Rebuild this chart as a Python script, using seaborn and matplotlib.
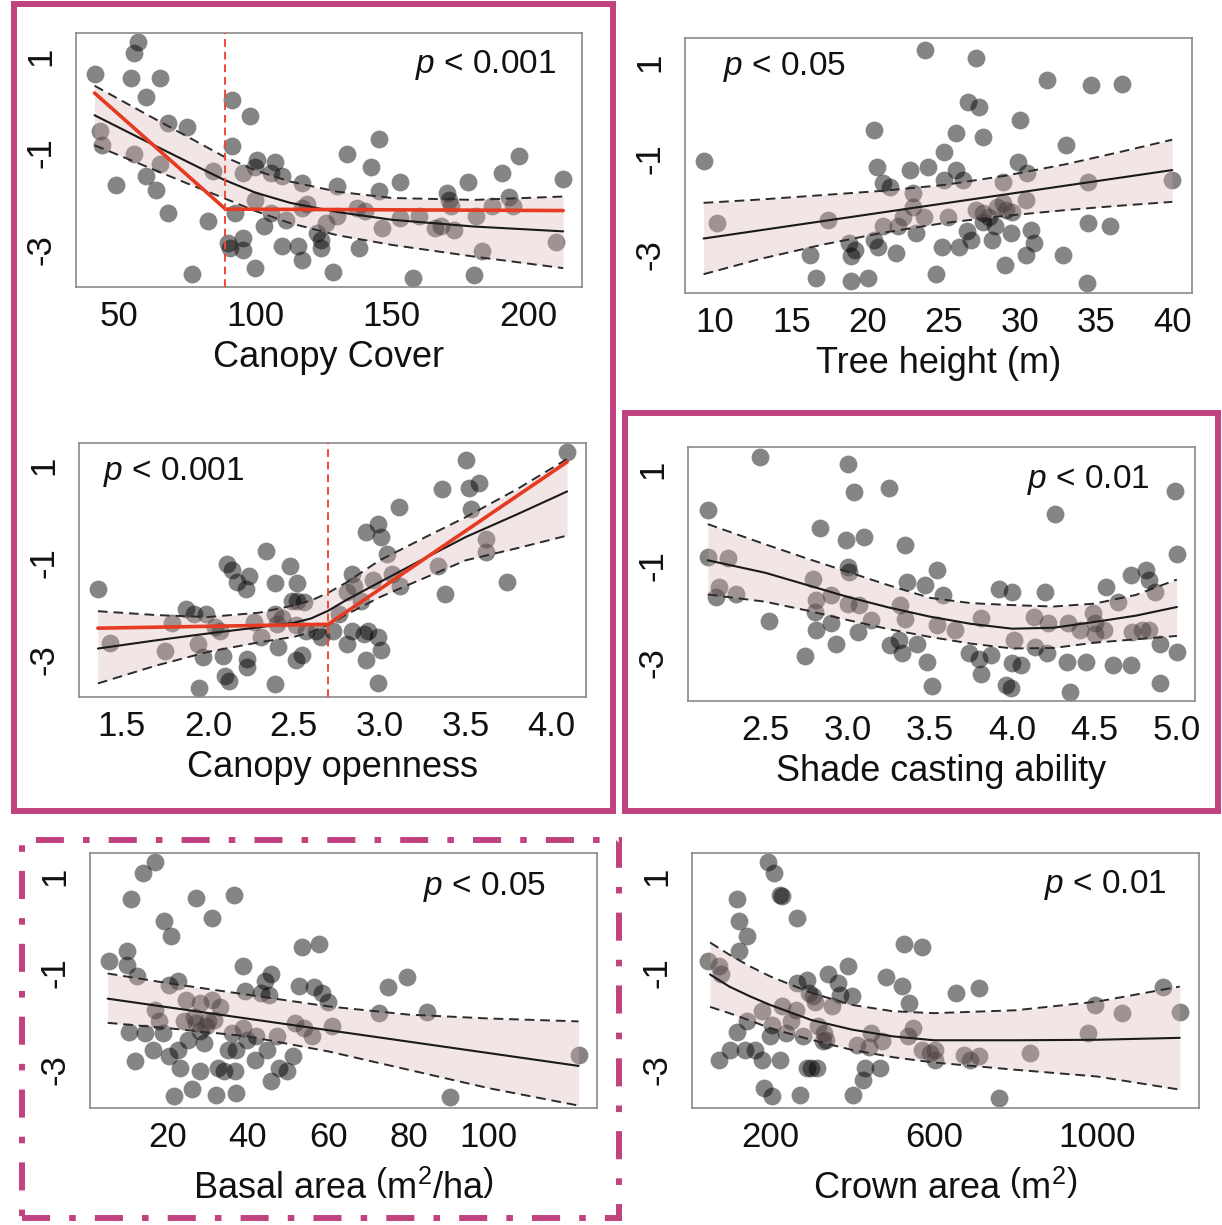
import matplotlib
matplotlib.use("Agg")
import matplotlib.pyplot as plt
import seaborn as sns
from matplotlib.patches import Rectangle

# ---------------- data ----------------
# Canopy cover
cover_x = [41, 55.3, 57, 54.3, 64.9, 60, 68, 75, 43.1, 43.8,
           48.9, 55.3, 60, 63.5, 65, 68, 76.6, 82.6, 84.3, 91.5,
           98.1, 91.5, 89.8, 90.5, 95.5, 95.5, 92.6, 99.8, 100.5, 99.8,
           95.5, 107, 105.6, 109.9, 117, 99.8, 105.6, 111.3, 109.9, 115.6,
           117, 117, 122.7, 124.1, 124.1, 128.4, 129.8, 129.8, 133.5, 137.1,
           137.8, 142.2, 145.1, 145.1, 146.5, 152.9, 152.9, 157.9, 165.8, 170.1,
           170.8, 171.5, 172.9, 177.9, 180.8, 180.1, 183, 186.6, 190.2, 193,
           194.5, 196.6, 210.3, 212.8, 119, 126, 103, 140, 160, 168]
cover_y = [0.64, 1.07, 1.29, 0.54, 0.54, 0.16, -0.39, -0.46, -0.55, -0.83,
           -1.66, -1.03, -1.48, -1.77, -1.23, -2.24, -3.5, -2.41, -1.38, 0.09,
           -0.23, -0.86, -2.86, -2.97, -2.76, -3.0, -2.24, -3.38, -1.14, -1.28,
           -1.41, -1.19, -1.41, -1.48, -1.62, -1.97, -2.24, -2.38, -2.93, -2.93,
           -3.21, -2.14, -2.66, -2.79, -2.97, -3.45, -1.69, -2.31, -1.03, -2.14,
           -2.97, -1.28, -0.72, -1.79, -2.55, -1.59, -2.34, -3.59, -2.55, -1.83,
           -1.97, -2.1, -2.59, -1.61, -2.31, -3.52, -3.03, -2.1, -1.41, -1.9,
           -2.1, -1.07, -2.84, -1.53, -2.05, -2.45, -2.5, -2.2, -2.3, -2.5]
cover_cx = [41, 60, 75, 88.3, 100, 112.7, 130, 150, 180, 212.8]
cover_fit = [-0.22, -0.76, -1.18, -1.55, -1.82, -2.03, -2.22, -2.38, -2.52, -2.62]
cover_hi = [0.39, -0.2, -0.66, -1.07, -1.36, -1.59, -1.80, -1.93, -1.97, -1.9]
cover_lo = [-0.84, -1.28, -1.63, -1.93, -2.20, -2.45, -2.70, -2.9, -3.14, -3.38]
cover_seg_x = [41, 89, 212.8]
cover_seg_y = [0.24, -2.16, -2.19]
cover_break = 89

# Tree height
height_x = [9.24, 10.1, 16.2, 16.6, 17.4, 18.8, 18.9, 18.9, 20, 20.4,
            20.6, 21, 20.7, 20.4, 21.9, 21, 22.8, 23, 23, 23.2,
            22.3, 23.8, 24, 23.7, 24.5, 25, 25, 24.9, 25.3, 25.8,
            25.8, 26.3, 26, 26.6, 26.8, 27.1, 27.3, 27.6, 27.1, 27.6,
            28, 28.4, 28.2, 28.9, 29.1, 29, 29.4, 29.9, 30, 30.4,
            30.5, 30.7, 30.9, 30.4, 31.8, 32.8, 33, 34.5, 34.5, 34.4,
            34.7, 35.9, 36.7, 40, 28.9, 27.6, 26.5, 28.5, 29.5, 22,
            19.2, 21.5]
height_y = [-1.05, -2.33, -3.0, -3.48, -2.28, -2.76, -3.03, -3.54, -3.47, -0.4,
            -1.17, -1.5, -2.83, -2.69, -2.97, -2.41, -1.24, -1.72, -2.0, -2.55,
            -2.21, 1.26, -1.17, -2.21, -3.39, -0.86, -1.45, -2.83, -2.21, -0.48,
            -1.24, -1.45, -2.83, 0.17, -2.69, 1.08, 0.07, -0.55, -2.07, -2.14,
            -2.21, -2.41, -2.69, -1.48, -2.07, -3.21, -2.55, -1.07, -0.21, -1.86,
            -1.31, -2.48, -2.76, -3.0, 0.62, -3.0, -0.72, -1.48, -2.33, -3.59,
            0.53, -2.41, 0.55, -1.45, -1.93, -2.31, -2.5, -2.0, -2.1, -2.4,
            -2.9, -1.6]
height_fx = [9.24, 40]
height_fit = [-2.66, -1.24]
height_cx = [9.24, 13, 17, 21, 25, 29, 33, 36.5, 40]
height_hi = [-1.92, -1.85, -1.76, -1.67, -1.55, -1.36, -1.12, -0.87, -0.61]
height_lo = [-3.4, -3.08, -2.79, -2.54, -2.34, -2.19, -2.07, -1.98, -1.9]

# Canopy openness
open_x = [1.36, 1.43, 1.75, 1.79, 1.87, 1.92, 1.95, 1.94, 1.97, 1.99,
          2.04, 2.07, 2.09, 2.10, 2.12, 2.11, 2.14, 2.17, 2.22, 2.24,
          2.23, 2.23, 2.27, 2.31, 2.34, 2.39, 2.39, 2.40, 2.41, 2.39,
          2.43, 2.48, 2.52, 2.49, 2.52, 2.56, 2.51, 2.55, 2.51, 2.57,
          2.63, 2.66, 2.73, 2.76, 2.81, 2.84, 2.85, 2.81, 2.84, 2.89,
          2.92, 2.99, 3.01, 2.91, 2.93, 2.92, 2.99, 3.01, 2.99, 2.96,
          3.04, 3.07, 3.12, 3.11, 3.34, 3.38, 3.36, 3.5, 3.52, 3.58,
          3.53, 3.62, 3.62, 3.74, 4.09]
open_y = [-1.54, -2.66, -2.82, -2.24, -1.95, -2.05, -3.58, -2.67, -2.95, -2.05,
          -2.33, -2.4, -2.93, -3.34, -3.43, -1.02, -1.16, -1.40, -1.54, -1.28,
          -2.98, -3.15, -2.22, -2.53, -0.75, -1.42, -2.05, -2.26, -2.74, -3.51,
          -2.15, -1.07, -1.42, -1.78, -1.78, -1.81, -3.01, -2.91, -2.29, -2.40,
          -2.40, -2.53, -2.40, -2.05, -1.60, -1.23, -1.47, -2.67, -2.40, -1.78,
          -0.37, -0.2, -0.46, -2.46, -2.40, -3.01, -2.53, -2.81, -3.49, -1.36,
          -0.81, -1.23, -1.47, 0.16, -1.07, -1.64, 0.53, 1.11, 0.55, 0.64,
          0.11, -0.51, -0.78, -1.40, 1.28]
open_cx = [1.36, 1.7, 2.0, 2.3, 2.5, 2.6, 2.7, 2.8, 3.0, 3.25, 3.5, 3.8, 4.09]
open_fit = [-2.77, -2.60, -2.46, -2.33, -2.24, -2.15, -1.99, -1.78, -1.40, -0.93, -0.47, 0.0, 0.47]
open_hi = [-2.0, -2.08, -2.12, -2.03, -1.88, -1.78, -1.62, -1.42, -0.95, -0.50, -0.06, 0.52, 1.14]
open_lo = [-3.49, -3.12, -2.84, -2.64, -2.53, -2.43, -2.28, -2.08, -1.71, -1.33, -0.95, -0.70, -0.44]
open_seg_x = [1.36, 2.70, 4.09]
open_seg_y = [-2.35, -2.27, 1.08]
open_break = 2.70

# Shade casting ability
shade_x = [2.15, 2.15, 2.27, 2.22, 2.20, 2.32, 2.47, 2.52, 2.74, 2.79,
           2.83, 2.81, 2.80, 2.81, 2.90, 2.90, 2.93, 3.0, 3.04, 2.99,
           3.0, 3.01, 3.0, 3.07, 3.06, 3.10, 3.14, 3.25, 3.26, 3.31,
           3.33, 3.32, 3.35, 3.35, 3.36, 3.42, 3.47, 3.48, 3.51, 3.54,
           3.58, 3.54, 3.65, 3.74, 3.80, 3.81, 3.81, 3.87, 3.92, 4.0,
           3.96, 3.99, 4.01, 4.0, 4.05, 4.13, 4.14, 4.2, 4.21, 4.22,
           4.26, 4.33, 4.34, 4.35, 4.41, 4.45, 4.49, 4.50, 4.50, 4.56,
           4.57, 4.61, 4.64, 4.72, 4.72, 4.73, 4.79, 4.81, 4.83, 4.87,
           4.83, 4.90, 4.90, 4.99, 5.0, 5.0]
shade_y = [0.16, -0.81, -0.84, -1.43, -1.64, -1.57, 1.26, -2.14, -2.87, -1.26,
           -0.22, -1.71, -1.95, -2.33, -2.19, -1.60, -2.62, 1.11, 0.54, -0.46,
           -1.02, -1.12, -1.78, -1.81, -2.36, -0.40, -2.12, 0.62, -2.64, -2.54,
           -2.81, -1.81, -2.09, -0.57, -1.33, -2.61, -1.40, -2.99, -3.48, -1.09,
           -1.60, -2.23, -2.33, -2.81, -2.92, -3.23, -2.07, -2.85, -1.47, -1.54,
           -3.47, -3.54, -2.54, -3.02, -3.06, -2.05, -2.68, -1.54, -2.81, -2.19,
           0.07, -2.99, -2.19, -3.61, -2.33, -2.99, -1.98, -2.19, -2.40, -2.33,
           -1.43, -3.06, -1.74, -1.19, -3.06, -2.36, -2.33, -1.09, -2.33, -1.54,
           -1.29, -2.61, -3.42, 0.56, -0.75, -2.78]
shade_cx = [2.15, 2.5, 2.75, 3.0, 3.25, 3.5, 3.75, 4.0, 4.25, 4.5, 4.75, 5.0]
shade_fit = [-0.88, -1.14, -1.39, -1.64, -1.86, -2.05, -2.20, -2.30, -2.28, -2.16, -2.03, -1.85]
shade_hi = [-0.13, -0.55, -0.84, -1.12, -1.40, -1.66, -1.77, -1.81, -1.84, -1.78, -1.60, -1.28]
shade_lo = [-1.59, -1.74, -1.92, -2.12, -2.31, -2.47, -2.61, -2.71, -2.70, -2.59, -2.52, -2.45]

# Basal area
basal_x = [5.3, 9.9, 9.9, 10.9, 12.4, 10.4, 11.9, 13.8, 16.8, 14.3,
           16.8, 16.3, 17.7, 19, 18.7, 20.7, 20.4, 20.2, 21.5, 22.6,
           22.6, 23.1, 24.6, 25.1, 26.1, 27.1, 26.6, 27.1, 28, 28,
           29, 29.5, 31, 31, 31.5, 32, 32.5, 33.9, 35.9, 36.4,
           36.9, 36.7, 36.9, 38.8, 39.3, 38.8, 39.8, 41.8, 43.2, 44.2,
           45.7, 45.2, 44.7, 45.7, 47.2, 47.6, 49.6, 51.1, 51.6, 52.7,
           53.5, 54, 56, 56.5, 57.6, 58.4, 59.9, 60.9, 72.6, 74.9,
           79.7, 84.7, 90.3, 122.4, 30, 33, 28, 35, 42, 24]
basal_y = [-0.76, -0.55, -0.83, 0.52, -1.07, -2.21, -2.81, 1.07, 1.29, -2.24,
           -1.76, -2.59, -2.0, 0.07, -2.24, -0.24, -1.24, -2.72, -3.55, -1.17,
           -2.59, -2.97, -1.55, -2.38, -3.4, 0.55, -1.9, -2.03, -1.62, -3.03,
           -2.45, -2.1, 0.14, -1.55, -1.97, -3.52, -2.97, -3.03, -2.24, 0.62,
           -3.48, -3.03, -2.59, -0.86, -1.38, -2.14, -2.38, -2.79, -1.41, -1.17,
           -1.03, -1.45, -2.59, -3.24, -2.31, -2.97, -3.03, -2.72, -2.03, -1.26,
           -0.46, -2.14, -2.31, -1.28, -0.41, -1.41, -1.59, -2.1, -1.83, -1.29,
           -1.08, -1.81, -3.57, -2.70, -2.0, -1.7, -2.2, -2.6, -2.3, -2.0]
basal_fx = [5, 122.4]
basal_fit = [-1.53, -2.92]
basal_cx = [5, 20, 40, 60, 80, 100, 122.4]
basal_hi = [-1.01, -1.21, -1.45, -1.69, -1.86, -1.94, -2.0]
basal_lo = [-2.03, -2.14, -2.31, -2.62, -3.0, -3.38, -3.74]

# Crown area
crown_x = [49, 76, 79, 75, 101, 120, 124, 143, 124, 120,
           143, 139, 162, 181, 181, 186, 195, 210, 205, 205,
           224, 228, 224, 228, 238, 262, 266, 266, 274, 280,
           290, 295, 290, 304, 314, 318, 332, 337, 342, 351,
           366, 371, 389, 399, 403, 413, 427, 432, 446, 441,
           469, 474, 484, 521, 526, 540, 550, 536, 571, 572,
           591, 604, 602, 654, 673, 688, 711, 710, 758, 834,
           976, 993, 1059, 1160, 1201, 300, 330, 250, 310, 200]
crown_y = [-0.76, -0.86, -1.03, -2.79, -2.59, 0.52, 0.07, -0.24, -0.55, -2.21,
           -2.0, -2.59, -2.59, -1.79, -2.79, -3.38, 1.29, 1.07, -2.07, -3.55,
           0.62, 0.6, -2.79, -1.69, -2.24, -1.76, 0.14, -1.21, -3.52, -2.31,
           -1.14, -1.41, -2.97, -1.48, -2.97, -2.10, -2.24, -2.38, -1.03, -1.69,
           -1.21, -1.45, -0.86, -1.48, -3.52, -2.48, -3.21, -2.97, -2.24, -2.52,
           -2.97, -2.41, -1.08, -1.26, -0.41, -1.61, -2.14, -2.31, -0.47, -2.59,
           -2.66, -2.59, -2.79, -1.41, -2.69, -2.79, -2.72, -1.31, -3.59, -2.66,
           -2.24, -1.66, -1.83, -1.28, -1.81, -2.97, -2.4, -2.0, -1.6, -2.3]
crown_cx = [53, 100, 150, 200, 300, 400, 500, 600, 800, 1000, 1201]
crown_fit = [-1.03, -1.28, -1.48, -1.66, -1.97, -2.17, -2.31, -2.39, -2.39, -2.38, -2.34]
crown_hi = [-0.37, -0.62, -0.86, -1.07, -1.41, -1.66, -1.79, -1.83, -1.77, -1.59, -1.28]
crown_lo = [-1.70, -1.83, -1.98, -2.14, -2.38, -2.59, -2.74, -2.85, -3.0, -3.14, -3.41]

y_ticks = [1, 0, -1, -2, -3]
y_ticklabels = ["1", "", "-1", "", "-3"]

# ---------------- style ----------------
W, H = 1222, 1225
MAGENTA = "#c04380"
BAND = "#d4b0b0"
RED = "#e63a22"

sns.set_style("white")
plt.rcParams["font.family"] = ["Liberation Sans", "DejaVu Sans"]
plt.rcParams["mathtext.fontset"] = "custom"
plt.rcParams["mathtext.rm"] = "Liberation Sans"
plt.rcParams["mathtext.it"] = "Liberation Sans:italic"

fig = plt.figure(figsize=(W / 100, H / 100), dpi=100)


def px_axes(x0, y0, x1, y1):
    return fig.add_axes([x0 / W, 1 - y1 / H, (x1 - x0) / W, (y1 - y0) / H])


def panel(rect, x, y, cx, hi, lo, fx, fit, xlim, ylim, xticks, xticklabels,
          xlabel, ptext, ppos, pha, seg_x=None, seg_y=None, brk=None, lpad=5):
    ax = px_axes(*rect)
    sns.scatterplot(x=x, y=y, ax=ax, color="black", alpha=0.48, s=165,
                    linewidth=0, zorder=2)
    ax.fill_between(cx, lo, hi, color=BAND, alpha=0.32, lw=0, zorder=3)
    for band in (hi, lo):
        sns.lineplot(x=cx, y=band, ax=ax, color="#2b2b2b", lw=1.4,
                     linestyle=(0, (5, 3)), estimator=None, sort=False, zorder=4)
    sns.lineplot(x=fx, y=fit, ax=ax, color="#1a1a1a", lw=1.5,
                 estimator=None, sort=False, zorder=5)
    if seg_x is not None:
        sns.lineplot(x=seg_x, y=seg_y, ax=ax, color=RED, lw=2.6,
                     estimator=None, sort=False, zorder=6)
        ax.axvline(brk, color="#ef4b3c", lw=1.4, ls=(0, (4, 2.5)), zorder=6)

    ax.set_xlim(*xlim)
    ax.set_ylim(*ylim)
    ax.set_xticks(xticks)
    ax.set_xticklabels(xticklabels)
    ax.set_yticks(y_ticks)
    ax.set_yticklabels(y_ticklabels)
    ax.tick_params(axis="both", direction="out", length=7.5, width=1,
                   color="#777777", labelsize=25, labelcolor="#111111")
    ax.tick_params(axis="x", pad=2)
    ax.tick_params(axis="y", pad=6, labelrotation=90)
    for lbl in ax.get_yticklabels():
        lbl.set_va("center")
    for sp in ax.spines.values():
        sp.set_color("#8a8a8a")
        sp.set_linewidth(1.2)
    ax.set_xlabel(xlabel, fontsize=26, color="#111111", labelpad=lpad)
    ax.set_ylabel("")
    ax.text(ppos[0], ppos[1], ptext, transform=ax.transAxes, ha=pha,
            va="center", fontsize=24, color="#111111")
    return ax


panel((76, 33, 582, 287), cover_x, cover_y, cover_cx, cover_hi, cover_lo,
      cover_cx, cover_fit, (34.2, 219.7), (-3.77, 1.48),
      [50, 100, 150, 200], ["50", "100", "150", "200"],
      "Canopy Cover", r"$p$ < 0.001", (0.95, 0.874), "right",
      cover_seg_x, cover_seg_y, cover_break)

panel((685, 38, 1192, 293), height_x, height_y, height_cx, height_hi, height_lo,
      height_fx, height_fit, (8.02, 41.3), (-3.79, 1.50),
      [10, 15, 20, 25, 30, 35, 40], ["10", "15", "20", "25", "30", "35", "40"],
      "Tree height (m)", r"$p$ < 0.05", (0.075, 0.886), "left")

panel((79, 443, 586, 697), open_x, open_y, open_cx, open_hi, open_lo,
      open_cx, open_fit, (1.25, 4.2), (-3.77, 1.47),
      [1.5, 2.0, 2.5, 3.0, 3.5, 4.0], ["1.5", "2.0", "2.5", "3.0", "3.5", "4.0"],
      "Canopy openness", r"$p$ < 0.001", (0.047, 0.886), "left",
      open_seg_x, open_seg_y, open_break)

panel((688, 447, 1195, 701), shade_x, shade_y, shade_cx, shade_hi, shade_lo,
      shade_cx, shade_fit, (2.03, 5.11), (-3.80, 1.47),
      [2.5, 3.0, 3.5, 4.0, 4.5, 5.0], ["2.5", "3.0", "3.5", "4.0", "4.5", "5.0"],
      "Shade casting ability", r"$p$ < 0.01", (0.911, 0.87), "right")

panel((90, 853, 597, 1108), basal_x, basal_y, basal_cx, basal_hi, basal_lo,
      basal_fx, basal_fit, (0.6, 127), (-3.79, 1.48),
      [20, 40, 60, 80, 100, 120], ["20", "40", "60", "80", "100", ""],
      r"Basal area $\left(\mathrm{m}^{2}/\mathrm{ha}\right)$", r"$p$ < 0.05",
      (0.90, 0.867), "right", lpad=12)

panel((692, 853, 1199, 1108), crown_x, crown_y, crown_cx, crown_hi, crown_lo,
      crown_cx, crown_fit, (8.9, 1248), (-3.79, 1.48),
      [200, 400, 600, 800, 1000, 1200], ["200", "", "600", "", "1000", ""],
      r"Crown area $\left(\mathrm{m}^{2}\right)$", r"$p$ < 0.01",
      (0.937, 0.875), "right", lpad=12)


# magenta frames around groups of panels
def frame(x0, y0, x1, y1, ls):
    fig.patches.append(Rectangle((x0 / W, 1 - y1 / H), (x1 - x0) / W, (y1 - y0) / H,
                                 transform=fig.transFigure, fill=False,
                                 edgecolor=MAGENTA, lw=4.3, ls=ls, zorder=10))


frame(14, 4, 613, 811, "-")
frame(625, 413, 1218, 811, "-")
frame(22, 840, 619, 1218, (0, (4.7, 3.2, 1.1, 3.2)))

fig.savefig("out.png", dpi=100)
